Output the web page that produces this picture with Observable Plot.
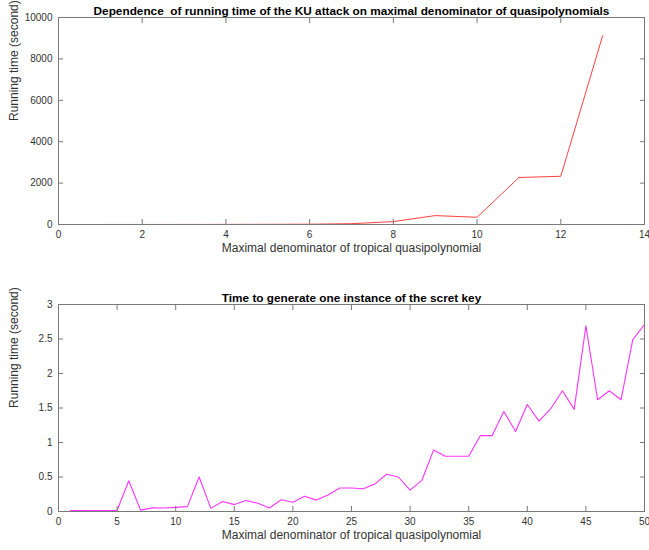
<!DOCTYPE html>
<html>
<head>
<meta charset="utf-8">
<script src="https://cdn.jsdelivr.net/npm/d3@7"></script>
<script src="https://cdn.jsdelivr.net/npm/@observablehq/plot@0.6"></script>
<style>
  html, body { margin: 0; padding: 0; background: #fff; overflow: hidden; }
  #chart svg { display: block; overflow: visible; }
</style>
</head>
<body>
<div id="chart"></div>
<script>
// ---- Data ----
const title1 = "Dependence  of running time of the KU attack on maximal denominator of quasipolynomials";
const title2 = "Time to generate one instance of the scret key";
const xLabel = "Maximal denominator of tropical quasipolynomial";
const yLabel = "Running time (second)";

const attackDenom = [1, 2, 3, 4, 5, 6, 7, 8, 9, 10, 11, 12, 13];
const attackTime  = [1, 2, 3, 5, 8, 15, 40, 140, 430, 350, 2270, 2330, 9120];

const keyDenom = Array.from({length: 50}, (_, i) => i + 1);
const keyTime = [
  0.015, 0.015, 0.015, 0.015, 0.015, 0.445, 0.02, 0.053, 0.05, 0.06,
  0.07, 0.50, 0.045, 0.145, 0.10, 0.16, 0.12, 0.05, 0.17, 0.135,
  0.22, 0.165, 0.24, 0.34, 0.34, 0.33, 0.40, 0.54, 0.50, 0.31,
  0.45, 0.89, 0.80, 0.80, 0.80, 1.10, 1.10, 1.45, 1.16, 1.55,
  1.31, 1.49, 1.75, 1.48, 2.69, 1.62, 1.75, 1.62, 2.49, 2.71
];

const topXTicks = [0, 2, 4, 6, 8, 10, 12, 14];
const topYTicks = [0, 2000, 4000, 6000, 8000, 10000];
const botXTicks = [0, 5, 10, 15, 20, 25, 30, 35, 40, 45, 50];
const botYTicks = [0, 0.5, 1, 1.5, 2, 2.5, 3];

// ---- Styles ----
const font = "'Liberation Sans', Arial, Helvetica, sans-serif";
const axisColor = "#7a7a7a";
const textColor = "#333333";

function panel({xs, ys, xDomain, yDomain, xTicks, yTicks, title, color, strokeWidth, height, marginTop, marginBottom}) {
  const data = xs.map((x, i) => ({x, y: ys[i]}));
  const fmt = d => String(d);
  return Plot.plot({
    width: 649,
    height,
    marginLeft: 58,
    marginRight: 5,
    marginTop,
    marginBottom,
    style: {fontFamily: font, fontSize: "10px", color: textColor, background: "white"},
    x: {domain: xDomain, ticks: xTicks},
    y: {domain: yDomain, ticks: yTicks},
    marks: [
      Plot.line(data, {x: "x", y: "y", stroke: color, strokeWidth}),
      Plot.frame({stroke: axisColor, strokeWidth: 1}),
      Plot.axisX({anchor: "bottom", ticks: xTicks, tickSize: -5, tickPadding: 11, tickFormat: fmt,
        stroke: axisColor, fill: textColor, label: null}),
      Plot.axisX({anchor: "top", ticks: xTicks, tickSize: -5, tickFormat: () => "",
        stroke: axisColor, label: null}),
      Plot.axisY({anchor: "left", ticks: yTicks, tickSize: -5, tickPadding: 11, tickFormat: fmt,
        stroke: axisColor, fill: textColor, label: null}),
      Plot.axisY({anchor: "right", ticks: yTicks, tickSize: -5, tickFormat: () => "",
        stroke: axisColor, label: null}),
      Plot.text([xLabel], {frameAnchor: "bottom", dy: 27, fontSize: 12, fill: textColor}),
      Plot.text([yLabel], {frameAnchor: "left", dx: -44, rotate: -90, fontSize: 12, fill: textColor}),
      Plot.text([title], {frameAnchor: "top", lineAnchor: "bottom", dy: -3, fontSize: 11.8, fontWeight: "bold", fill: "#000"})
    ]
  });
}

const topPanel = panel({
  xs: attackDenom, ys: attackTime, xDomain: [0, 14], yDomain: [0, 10000],
  xTicks: topXTicks, yTicks: topYTicks, title: title1, color: "#ff2a2a", strokeWidth: 0.9,
  height: 275, marginTop: 17, marginBottom: 51
});
const bottomPanel = panel({
  xs: keyDenom, ys: keyTime, xDomain: [0, 50], yDomain: [0, 3],
  xTicks: botXTicks, yTicks: botYTicks, title: title2, color: "#ff33ff", strokeWidth: 1.1,
  height: 275, marginTop: 29, marginBottom: 39
});
document.getElementById("chart").append(topPanel, bottomPanel);
</script>
</body>
</html>
